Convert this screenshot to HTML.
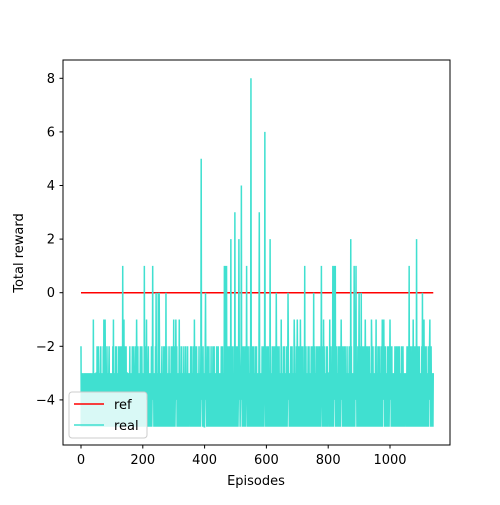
<!DOCTYPE html>
<html><head><meta charset="utf-8"><style>
body{margin:0;background:#fff}
svg text{font-family:"DejaVu Sans","Liberation Sans",sans-serif;font-size:13px;fill:#000}
</style></head><body>
<svg id="chart" width="500" height="500" viewBox="0 0 500 500" xmlns="http://www.w3.org/2000/svg">
<rect width="500" height="500" fill="#fff"/>
<g id="plot"></g>
<rect x="63" y="60" width="387" height="385" fill="none" stroke="#000" stroke-width="1"/>
<g id="ticks"></g>
<text x="256" y="485" text-anchor="middle">Episodes</text>
<text transform="translate(23,253) rotate(-90)" text-anchor="middle">Total reward</text>
<g>
<rect x="69" y="392" width="78" height="46" rx="3" fill="#fff" fill-opacity="0.8" stroke="#ccc"/>
<line x1="74" y1="404" x2="104" y2="404" stroke="#ff0000" stroke-width="1.5"/>
<text x="114" y="409">ref</text>
<line x1="74" y1="425" x2="104" y2="425" stroke="#40e0d0" stroke-width="1.5"/>
<text x="114" y="430">real</text>
</g>
</svg>
<script>
// base noise level per episode: char code = reward + 5
const baseLevels =
"30102120101201021012010201201021010201201020102012"+
"20312013021202301201203012014201203120102310201202"+
"12031301202130312012031021302130120310320120313012"+
"21021201302120213012031201230212013012102130120311"+
"20120213021201201230120210213012021201210301202120"+
"12013021201230120130213012031201201302120131021301"+
"20130120213012012031301201302102130120130210130201"+
"21201302130120130213012031201021301201302120130120"+
"01302120130201302102130120130213012012031201302120"+
"12013021302120130120130213012031201201302130121021"+
"20130213012031201230120130213012031201021301201302"+
"12013021301201302130120210313012012031201301201302"+
"01302130120130212013012031201302120130210301202130"+
"21201302130120213012031201201302130121021301201302"+
"12013021301202130130120130213021201301302120130213"+
"02130130120131021301203120130120130213021201301302"+
"21201302130120213012031201203012013021301202130130"+
"12031301201302120130120313012021201302130120213012"+
"20130213012031201302120130213012031201201302130120"+
"12031301201302130120130213021201301302120130213012"+
"02130130120120213012031201302130120213012031201201"+
"21201302130120213012031201201302130120213012031201"+
"20130213012031201302120130213012031201202";
// observed peaks: [episode, reward]
const peakEpisodes = [0,40,74,105,135,139,180,205,212,232,243,250,253,275,300,307,318,367,389,403,464,468,471,485,498,511,519,536,550,577,595,612,632,648,670,690,700,710,724,753,778,785,805,815,820,823,842,873,884,890,900,907,920,940,955,975,980,1000,1062,1075,1086,1105,1110,1129];
const peakValues   = [-2,-1,-1,-1,1,-1,-1,1,-1,1,0,0,0,0,-1,-1,-1,-1,5,0,1,1,1,2,3,2,4,1,8,3,6,2,0,-1,0,-1,-1,-1,1,0,1,-1,-1,1,1,1,-1,2,1,1,0,0,-1,-1,-1,-1,-1,-1,1,-1,2,0,-1,-1];
const xTicks = [0,200,400,600,800,1000];
const yTicks = [-4,-2,0,2,4,6,8];
const refValue = 0;

const rewards = baseLevels.split('').map(c => parseInt(c,36)-5);
peakEpisodes.forEach((e,i)=>{ if(e<rewards.length) rewards[e]=peakValues[i]; });

const X = e => 81 + e*0.309;
const Y = v => 292.7 - v*26.8;
const NS='http://www.w3.org/2000/svg';
const plot=document.getElementById('plot');
const ticks=document.getElementById('ticks');

const ref=document.createElementNS(NS,'line');


ref.setAttribute('x1',X(0));ref.setAttribute('x2',X(rewards.length-1));
ref.setAttribute('y1',Y(refValue));ref.setAttribute('y2',Y(refValue));
ref.setAttribute('stroke','#ff0000');ref.setAttribute('stroke-width','1.5');
plot.appendChild(ref);

const pl=document.createElementNS(NS,'polyline');


pl.setAttribute('points',rewards.map((v,i)=>X(i).toFixed(2)+','+Y(v).toFixed(2)).join(' '));
pl.setAttribute('fill','none');pl.setAttribute('stroke','#40e0d0');pl.setAttribute('stroke-width','1.5');
plot.appendChild(pl);

xTicks.forEach(t=>{
  const l=document.createElementNS(NS,'line');
  
  
  l.setAttribute('x1',X(t));l.setAttribute('x2',X(t));l.setAttribute('y1',445);l.setAttribute('y2',448.5);l.setAttribute('stroke','#000');
  ticks.appendChild(l);
  const tx=document.createElementNS(NS,'text');
  
  
  tx.setAttribute('x',X(t));tx.setAttribute('y',464);tx.setAttribute('text-anchor','middle');tx.textContent=t;
  ticks.appendChild(tx);
});
yTicks.forEach(t=>{
  const l=document.createElementNS(NS,'line');
  
  
  l.setAttribute('x1',59.5);l.setAttribute('x2',63);l.setAttribute('y1',Y(t));l.setAttribute('y2',Y(t));l.setAttribute('stroke','#000');
  ticks.appendChild(l);
  const tx=document.createElementNS(NS,'text');
  
  
  tx.setAttribute('x',55);tx.setAttribute('y',Y(t)+4.5);tx.setAttribute('text-anchor','end');tx.textContent=(t<0?'\u2212'+(-t):t);
  ticks.appendChild(tx);
});
</script>
</body></html>
